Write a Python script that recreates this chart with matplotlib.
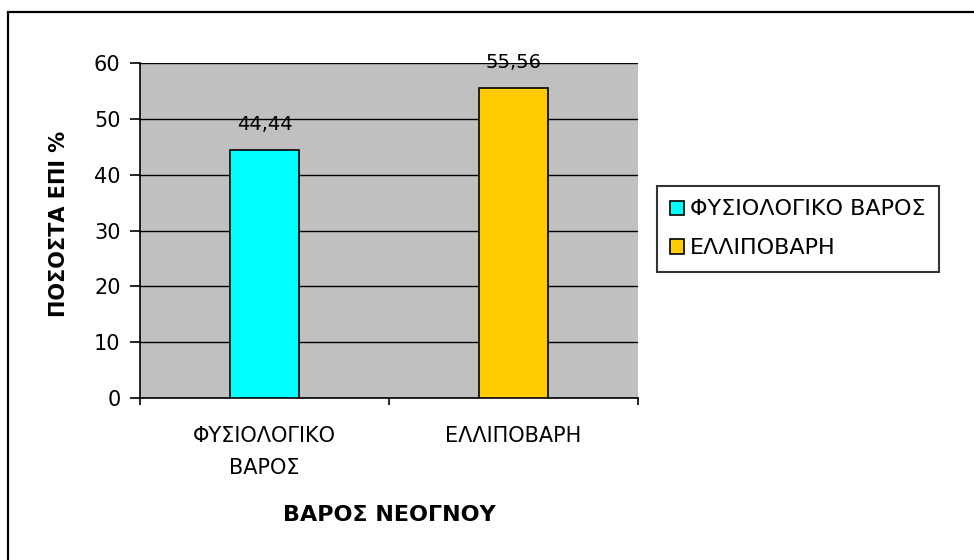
import matplotlib.pyplot as plt
from matplotlib.patches import Rectangle

plt.rcParams['font.family'] = ['DejaVu Sans']

# Data
categories = ["ΦΥΣΙΟΛΟΓΙΚΟ\nΒΑΡΟΣ", "ΕΛΛΙΠΟΒΑΡΗ"]
legend_labels = ["ΦΥΣΙΟΛΟΓΙΚΟ ΒΑΡΟΣ", "ΕΛΛΙΠΟΒΑΡΗ"]
values = [44.44, 55.56]
colors = ["#00FFFF", "#FFCC00"]

fig = plt.figure(figsize=(9.74, 5.6), dpi=100)
ax = fig.add_axes([0.1437, 0.2893, 0.5113, 0.598])
ax.set_facecolor("#C0C0C0")

x = list(range(len(values)))
for i, v in enumerate(values):
    ax.bar(x[i], v, width=0.28, color=colors[i], edgecolor="black",
           linewidth=1.2, label=legend_labels[i], zorder=3)
    ax.annotate(f"{v:.2f}".replace(".", ","), (x[i], v), xytext=(0, 25),
                textcoords="offset pixels", ha="center", va="center",
                fontsize=14)

ax.set_xlim(-0.5, 1.5)
ax.set_ylim(0, 60)
ax.set_yticks(range(0, 61, 10))
ax.yaxis.grid(True, color="black", linewidth=1.0, zorder=1)
ax.set_axisbelow(True)

# category ticks sit between the categories, labels at the centres
ax.set_xticks([-0.5, 0.5, 1.5])
ax.set_xticklabels([])
ax.set_xticks(x, minor=True)
ax.set_xticklabels(categories, minor=True, fontsize=15, linespacing=1.75)
ax.tick_params(axis="x", which="minor", length=0, pad=20)
ax.tick_params(axis="x", which="major", length=5, direction="out", width=1.2)
ax.tick_params(axis="y", length=7, direction="out", width=1.2, labelsize=15, pad=7)

for side in ["top", "right"]:
    ax.spines[side].set_visible(False)
ax.spines["left"].set_linewidth(1.2)
ax.spines["bottom"].set_linewidth(1.2)

ax.set_ylabel("ΠΟΣΟΣΤΑ ΕΠΙ %", fontsize=15, fontweight="bold")
ax.yaxis.set_label_coords(-0.143, 0.52)
ax.set_xlabel("ΒΑΡΟΣ ΝΕΟΓΝΟΥ", fontsize=16, fontweight="bold")
ax.xaxis.set_label_coords(0.5, -0.32)

leg = ax.legend(loc="center left", bbox_to_anchor=(1.038, 0.505), fontsize=16,
                frameon=True, fancybox=False, edgecolor="black",
                handlelength=0.6, handleheight=0.6, handletextpad=0.3,
                borderpad=0.6, labelspacing=0.85, borderaxespad=0)
leg.get_frame().set_linewidth(1.5)

# outer chart border (runs off the right and bottom edges like the original)
fig.patches.append(Rectangle((0.008, -0.02), 1.1, 0.999, transform=fig.transFigure,
                             fill=False, edgecolor="black", linewidth=1.6))

fig.savefig("out.png", dpi=100)
